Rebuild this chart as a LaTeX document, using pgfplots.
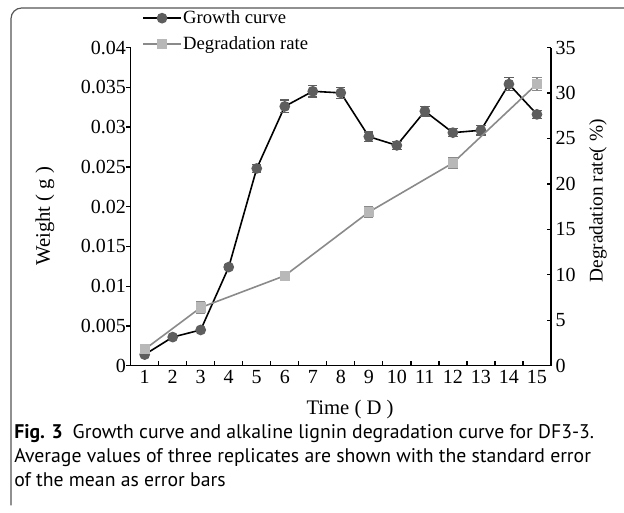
\documentclass[border=0pt]{standalone}
\usepackage{pgfplots}
\pgfplotsset{compat=1.18}
\usepackage{pgfplotstable}
\usepackage{fontspec}
\setmainfont{Liberation Serif}
\newfontfamily\capfont{PT Sans}
\definecolor{gmark}{HTML}{5E5E5E}
\definecolor{dline}{HTML}{8A8A8A}
\definecolor{dmark}{HTML}{B8B8B8}
\definecolor{framec}{HTML}{555555}

\pgfplotstableread{
x y e
1 0.0014 0.0002
2 0.0036 0.0002
3 0.0045 0.0002
4 0.0124 0.0003
5 0.0248 0.0005
6 0.0326 0.0008
7 0.0345 0.0007
8 0.0343 0.0007
9 0.0288 0.0006
10 0.0277 0.0005
11 0.0320 0.0006
12 0.0293 0.0005
13 0.0296 0.0006
14 0.0354 0.0008
15 0.0316 0.0005
}\growth

\pgfplotstableread{
x y e
1 1.8 0.4
3 6.4 0.6
6 9.9 0.5
9 16.9 0.6
12 22.3 0.6
15 31.0 0.7
}\degr

\begin{document}
\begin{tikzpicture}
\useasboundingbox (0,0) rectangle (468pt,-384.75pt);
\draw[framec, line width=0.9pt, rounded corners=8pt] (8.25pt,-379pt) -- (8.25pt,-6pt) -- (470pt,-6pt);

\pgfplotsset{
  common/.style={
    at={(98pt,-274.3pt)}, anchor=south west,
    scale only axis, width=315.2pt, height=238.65pt,
    xmin=0.5, xmax=15.5,
    font=\fontsize{15}{17}\selectfont,
    tick label style={font=\fontsize{15}{17}\selectfont},
    /pgf/number format/assume math mode=true,
    axis line style={-, line width=1pt, black},
    tick style={line width=1pt, black},
    tick align=inside,
    major tick length=3.2pt,
    scaled y ticks=false,
  }
}

\begin{axis}[common,
  ymin=0, ymax=0.04,
  axis x line*=bottom, axis y line*=left,
  xtick={1.5,2.5,...,14.5},
  xticklabels={},
  extra x ticks={1,2,3,4,5,6,7,8,9,10,11,12,13,14,15},
  extra x tick labels={1,2,3,4,5,6,7,8,9,10,11,12,13,14,15},
  extra x tick style={major tick length=0pt},
  ytick={0,0.005,0.01,0.015,0.02,0.025,0.03,0.035,0.04},
  yticklabels={0,0.005,0.01,0.015,0.02,0.025,0.03,0.035,0.04},
  y tick style={xshift=-3.2pt},
  xlabel={Time ( D )},
  ylabel={Weight ( g )},
  xlabel style={at={(axis description cs:0.522,-0.139)}, anchor=center, font=\fontsize{15.5}{17}\selectfont},
  ylabel style={at={(axis description cs:-0.204,0.47)}, anchor=center, font=\fontsize{15.5}{17}\selectfont},
]
\addplot[black, line width=1.2pt, mark=*, mark size=3.4pt,
  mark options={fill=gmark, draw=gmark},
  error bars/.cd, y dir=both, y explicit,
  error bar style={gmark, line width=1pt},
  error mark options={rotate=90, mark size=3.5pt, gmark, line width=1pt}]
  table[x=x, y=y, y error=e] {\growth};
\end{axis}

\begin{axis}[common,
  ymin=0, ymax=35,
  axis y line*=right, axis x line=none,
  ytick={0,5,...,35},
  ylabel={Degradation rate( \%)},
  ylabel style={at={(axis description cs:1.112,0.518)}, anchor=center, font=\fontsize{14.5}{17}\selectfont},
  legend style={at={(axis description cs:0.027,1.125)}, anchor=north west,
    draw=none, fill=none, inner sep=0pt, row sep=4pt,
    font=\fontsize{14}{16}\selectfont,
    nodes={inner xsep=1pt, inner ysep=2pt}},
  legend cell align=left,
  legend image code/.code={\draw[mark repeat=2, mark phase=2, #1] plot coordinates {(0cm,0cm) (0.5cm,0cm) (1cm,0cm)};},
]
\addlegendimage{black, line width=1.2pt, mark=*, mark size=3.4pt, mark options={fill=gmark, draw=gmark}}
\addlegendentry{Growth curve}
\addplot[dline, line width=1.2pt, mark=square*, mark size=3.2pt,
  mark options={fill=dmark, draw=dmark},
  error bars/.cd, y dir=both, y explicit,
  error bar style={dline, line width=1pt},
  error mark options={rotate=90, mark size=3.5pt, dline, line width=1pt}]
  table[x=x, y=y, y error=e] {\degr};
\addlegendentry{Degradation rate}
\end{axis}

\node[anchor=base west, inner sep=0pt, font=\capfont\fontsize{14.8}{18}\selectfont] at (10.5pt,-328.5pt) {\textbf{Fig. 3}\enspace Growth curve and alkaline lignin degradation curve for DF3-3.};
\node[anchor=base west, inner sep=0pt, font=\capfont\fontsize{14.8}{18}\selectfont] at (10.5pt,-346.5pt) {Average values of three replicates are shown with the standard error};
\node[anchor=base west, inner sep=0pt, font=\capfont\fontsize{14.8}{18}\selectfont] at (10.5pt,-364.5pt) {of the mean as error bars};
\end{tikzpicture}
\end{document}
